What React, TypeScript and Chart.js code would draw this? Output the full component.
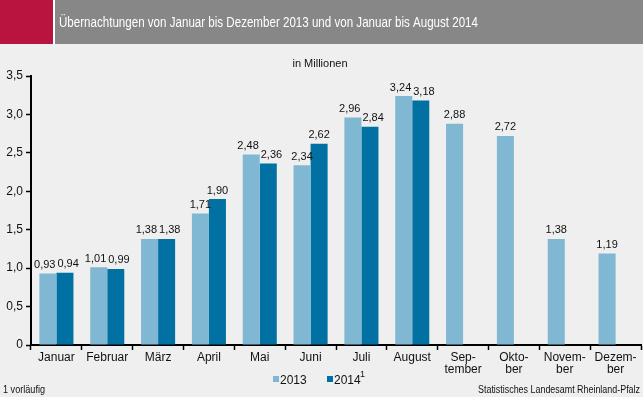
import React, { useEffect, useRef } from "react";
import { Chart, registerables } from "chart.js";

Chart.register(...registerables);

const categories: (string | string[])[] = [
  "Januar", "Februar", "März", "April", "Mai", "Juni", "Juli", "August",
  ["Sep-", "tember"], ["Okto-", "ber"], ["Novem-", "ber"], ["Dezem-", "ber"],
];
const values2013 = [0.93, 1.01, 1.38, 1.71, 2.48, 2.34, 2.96, 3.24, 2.88, 2.72, 1.38, 1.19];
const values2014: (number | null)[] = [0.94, 0.99, 1.38, 1.90, 2.36, 2.62, 2.84, 3.18, null, null, null, null];
const yTicks = [0, 0.5, 1, 1.5, 2, 2.5, 3, 3.5];

const TITLE = "Übernachtungen von Januar bis Dezember 2013 und von Januar bis August 2014";
const SUBTITLE = "in Millionen";
const FOOT_LEFT = "1 vorläufig";
const FOOT_RIGHT = "Statistisches Landesamt Rheinland-Pfalz";

const C2013 = "#80B7D2";
const C2014 = "#0071A2";
const BG = "#EEEFEE";
const FONT = "'Liberation Sans', Arial, sans-serif";

const fmt = (v: number) => (v === 0 ? "0" : v.toFixed(2).replace(".", ","));
const fmtTick = (v: number) => (v === 0 ? "0" : v.toFixed(1).replace(".", ","));

function fitText(ctx: CanvasRenderingContext2D, text: string, x: number, y: number, w: number, align: "left" | "right") {
  const m = ctx.measureText(text).width;
  const s = Math.min(1, w / m);
  ctx.save();
  ctx.translate(x, y);
  ctx.scale(s, 1);
  ctx.textAlign = align;
  ctx.fillText(text, 0, 0);
  ctx.restore();
}

const decorPlugin = {
  id: "decor",
  beforeDraw(chart: any) {
    const ctx = chart.ctx as CanvasRenderingContext2D;
    ctx.save();
    ctx.fillStyle = BG;
    ctx.fillRect(0, 0, chart.width, chart.height);
    ctx.fillStyle = "#B8143F";
    ctx.fillRect(0, 0, 53, 44);
    ctx.fillStyle = "#FFFFFF";
    ctx.fillRect(53, 0, 2, 44);
    ctx.fillStyle = "#878788";
    ctx.fillRect(55, 0, chart.width - 55, 44);
    ctx.fillStyle = "#FFFFFF";
    ctx.font = `14px ${FONT}`;
    ctx.textBaseline = "alphabetic";
    fitText(ctx, TITLE, 59, 27, 419, "left");
    ctx.fillStyle = "#111";
    ctx.font = `11px ${FONT}`;
    ctx.textAlign = "center";
    ctx.fillText(SUBTITLE, 320, 67);
    ctx.font = `10px ${FONT}`;
    fitText(ctx, FOOT_LEFT, 3, 393, 42, "left");
    fitText(ctx, FOOT_RIGHT, 640, 393, 162, "right");
    // legend
    ctx.font = `12px ${FONT}`;
    ctx.textAlign = "left";
    ctx.fillStyle = C2013;
    ctx.fillRect(273, 376, 6, 6);
    ctx.fillStyle = "#111";
    ctx.fillText("2013", 280, 384);
    ctx.fillStyle = C2014;
    ctx.fillRect(327, 376, 6, 6);
    ctx.fillStyle = "#111";
    ctx.fillText("2014", 334, 384);
    ctx.font = `9px ${FONT}`;
    ctx.fillText("1", 360, 377);
    ctx.restore();
  },
  afterDatasetsDraw(chart: any) {
    const ctx = chart.ctx as CanvasRenderingContext2D;
    ctx.save();
    ctx.font = `11px ${FONT}`;
    ctx.fillStyle = "#111";
    ctx.textAlign = "center";
    ctx.textBaseline = "bottom";
    const m0 = chart.getDatasetMeta(0);
    const m1 = chart.getDatasetMeta(1);
    const d0 = chart.data.datasets[0].data;
    const d1 = chart.data.datasets[1].data;
    for (let i = 0; i < d0.length; i++) {
      const a = d0[i];
      const b = d1[i];
      const ea = m0.data[i];
      const eb = m1.data[i];
      if (a !== null && a !== undefined && (b === null || b === undefined)) {
        ctx.fillText(fmt(a), ea.x, ea.y - 3);
        continue;
      }
      if (a === null || a === undefined) continue;
      const ta = fmt(a);
      const tb = fmt(b);
      const wa = ctx.measureText(ta).width;
      const wb = ctx.measureText(tb).width;
      let xa = ea.x;
      let xb = eb.x;
      const need = (wa + wb) / 2 + 2;
      const vOverlap = Math.abs(ea.y - eb.y) < 13;
      if (vOverlap && xb - xa < need) {
        const d = (need - (xb - xa)) / 2;
        xa -= d;
        xb += d;
      }
      ctx.fillText(ta, xa, ea.y - 3);
      ctx.fillText(tb, xb, eb.y - 3);
    }
    ctx.restore();
  },
};

export default function App() {
  const ref = useRef<HTMLCanvasElement>(null);
  useEffect(() => {
    document.body.style.margin = "0";
    const chart = new Chart(ref.current!, {
      type: "bar",
      data: {
        labels: categories,
        datasets: [
          { label: "2013", data: values2013, backgroundColor: C2013, categoryPercentage: 0.67, barPercentage: 1 },
          { label: "2014", data: values2014, backgroundColor: C2014, categoryPercentage: 0.67, barPercentage: 1 },
        ],
      },
      options: {
        responsive: false,
        animation: false,
        events: [],
        layout: { padding: { top: 76, right: 2, left: 0, bottom: 0 } },
        plugins: { legend: { display: false }, tooltip: { enabled: false }, title: { display: false } },
        scales: {
          x: {
            grid: { drawOnChartArea: false, offset: true, tickLength: 5, color: "#000", tickWidth: 1.5 },
            border: { color: "#000", width: 2 },
            ticks: { color: "#111", font: { family: FONT, size: 12, lineHeight: 1.05 }, padding: 1, maxRotation: 0, autoSkip: false },
            afterFit: (s: any) => { s.height = 52; },
          },
          y: {
            min: 0,
            max: 3.5,
            afterBuildTicks: (s: any) => { s.ticks = yTicks.map((v) => ({ value: v })); },
            grid: { drawOnChartArea: false, tickLength: 5, color: "#000", tickWidth: 1.5 },
            border: { color: "#000", width: 2 },
            ticks: { color: "#111", font: { family: FONT, size: 12 }, padding: 3, callback: (v: any) => fmtTick(Number(v)) },
            afterFit: (s: any) => { s.width = 31; },
          },
        },
      },
      plugins: [decorPlugin],
    });
    return () => chart.destroy();
  }, []);
  return <canvas ref={ref} width={643} height={397} style={{ display: "block" }} />;
}
